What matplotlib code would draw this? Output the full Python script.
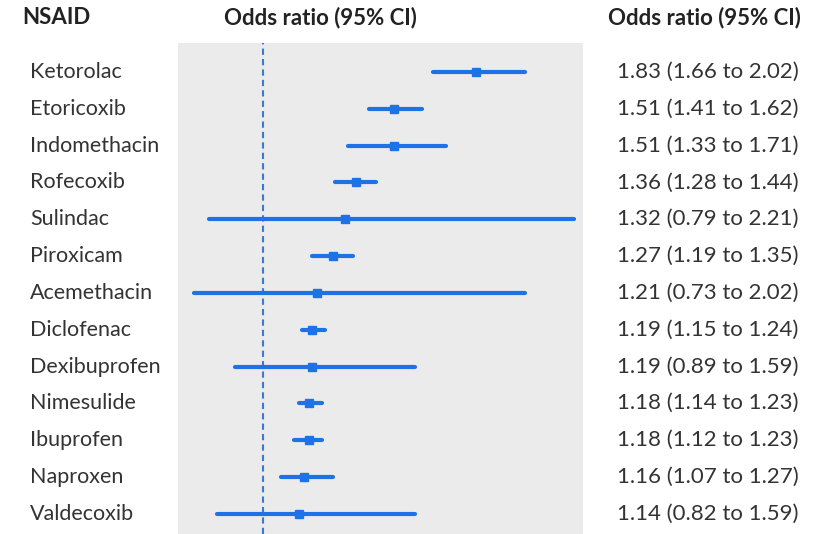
import matplotlib
matplotlib.use('Agg')
import matplotlib.pyplot as plt
from matplotlib.transforms import blended_transform_factory

drugs = ['Ketorolac', 'Etoricoxib', 'Indomethacin', 'Rofecoxib', 'Sulindac',
         'Piroxicam', 'Acemethacin', 'Diclofenac', 'Dexibuprofen', 'Nimesulide',
         'Ibuprofen', 'Naproxen', 'Valdecoxib']
odds = [1.83, 1.51, 1.51, 1.36, 1.32, 1.27, 1.21, 1.19, 1.19, 1.18, 1.18, 1.16, 1.14]
lower = [1.66, 1.41, 1.33, 1.28, 0.79, 1.19, 0.73, 1.15, 0.89, 1.14, 1.12, 1.07, 0.82]
upper = [2.02, 1.62, 1.71, 1.44, 2.21, 1.35, 2.02, 1.24, 1.59, 1.23, 1.23, 1.27, 1.59]

blue = '#1f72e6'
txt = '#333333'
plt.rcParams['font.family'] = ['Lato', 'DejaVu Sans']

fig = plt.figure(figsize=(8.13, 5.34), dpi=100)
ax = fig.add_axes([0.219, 0.0, 0.498, 0.9195])
ax.set_facecolor('#ebebeb')
for s in ax.spines.values():
    s.set_visible(False)
ax.set_xticks([])
ax.set_yticks([])
ax.set_xlim(0.668, 2.245)
ax.set_ylim(12.55, -0.788)

# reference line at OR = 1
ax.axvline(1.0, color='#3d78d4', linestyle=(0, (3, 2)), linewidth=1.5, zorder=1)

ys = list(range(len(drugs)))
for y, o, lo, hi in zip(ys, odds, lower, upper):
    ax.plot([lo, hi], [y, y], color=blue, linewidth=3, solid_capstyle='round', zorder=2)
ax.plot(odds, ys, 's', color=blue, markersize=6, zorder=3)

tr = blended_transform_factory(fig.transFigure, ax.transData)
for y, d, o, lo, hi in zip(ys, drugs, odds, lower, upper):
    ax.text(30 / 813, y, d, transform=tr, ha='left', va='center', fontsize=15.5,
            color=txt, clip_on=False)
    ax.text(617 / 813, y, f'{o:.2f} ({lo:.2f} to {hi:.2f})', transform=tr,
            ha='left', va='center', fontsize=16, color=txt, clip_on=False)

hy = 1 - 18 / 534
fig.text(22 / 813, hy, 'NSAID', ha='left', va='center', fontsize=16,
         fontweight='bold', color='#222222')
fig.text(320 / 813, hy, 'Odds ratio (95% CI)', ha='center', va='center',
         fontsize=16, fontweight='bold', color='#222222')
fig.text(608 / 813, hy, 'Odds ratio (95% CI)', ha='left', va='center',
         fontsize=16, fontweight='bold', color='#222222')

fig.savefig('out.png', dpi=100)
plt.close(fig)
